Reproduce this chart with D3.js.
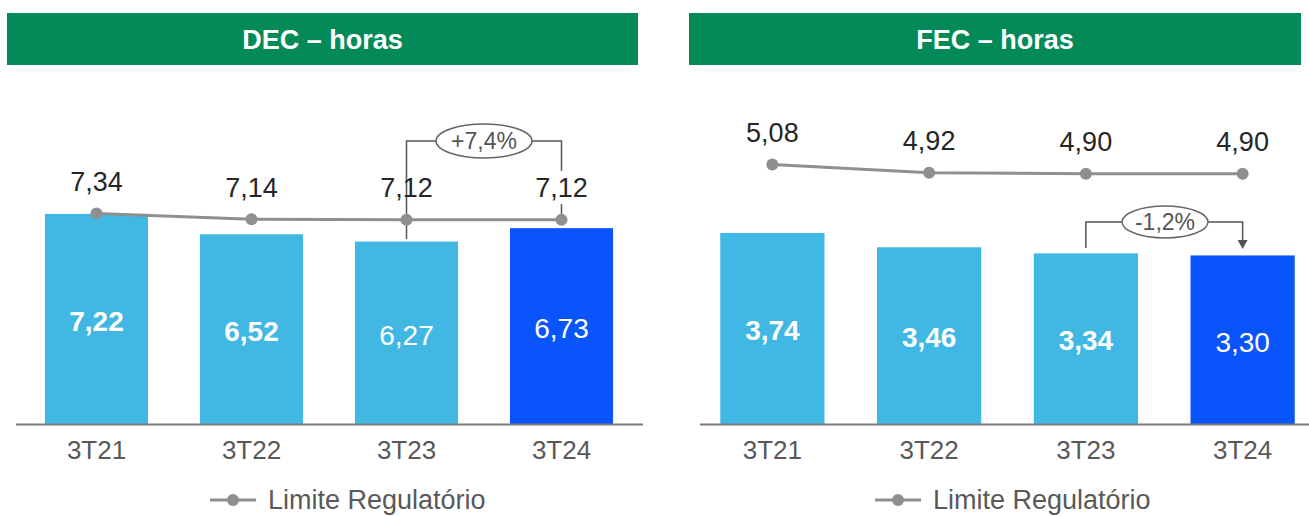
<!DOCTYPE html>
<html>
<head>
<meta charset="utf-8">
<script src="https://cdn.jsdelivr.net/npm/d3@7"></script>
<style>
  body { margin: 0; background: #fff; }
  text { font-family: "Liberation Sans", Arial, sans-serif; }
</style>
</head>
<body>
<div id="chart"></div>
<script>
// categories and values
var periods = ["3T21", "3T22", "3T23", "3T24"];
var decValues = [7.22, 6.52, 6.27, 6.73];
var decLimit = [7.34, 7.14, 7.12, 7.12];
var fecValues = [3.74, 3.46, 3.34, 3.30];
var fecLimit = [5.08, 4.92, 4.90, 4.90];
var decBold = [true, true, false, false];
var fecBold = [true, true, true, false];
var decChange = "+7,4%";
var fecChange = "-1,2%";

var svgWidth = 1309;
var svgHeight = 516;
var baseY = 424;

var lightBlue = "#41b8e4";
var darkBlue = "#0a55fb";
var green = "#038a58";
var lineGrey = "#8f8f8f";

var fmt = function(v) { return v.toFixed(2).replace(".", ","); };

var svg = d3.select("#chart")
  .append("svg")
  .attr("width", svgWidth)
  .attr("height", svgHeight);

function drawPanel(opt) {
  var g = svg.append("g");

  // header
  g.append("rect")
    .attr("x", opt.headX).attr("y", 13)
    .attr("width", opt.headW).attr("height", 52)
    .attr("fill", green);
  g.append("text")
    .attr("x", opt.headX + opt.headW / 2).attr("y", 40)
    .attr("dy", "0.35em")
    .attr("text-anchor", "middle")
    .attr("fill", "#fff")
    .attr("font-size", 27)
    .attr("font-weight", "bold")
    .text(opt.title);

  var x = d3.scaleBand()
    .domain(periods)
    .range(opt.range)
    .paddingInner(0.335)
    .paddingOuter(0.1675);

  var y = d3.scaleLinear()
    .domain([0, opt.unitMax])
    .range([baseY, baseY - opt.pxMax]);

  // limit line sits on its own (slightly shifted) axis
  var yLine = d3.scaleLinear()
    .domain([0, opt.unitMax])
    .range([baseY + opt.lineShift, baseY + opt.lineShift - opt.pxMax]);

  // bars
  g.selectAll(".bar")
    .data(opt.values)
    .enter()
    .append("rect")
    .attr("x", function(d, i) { return x(periods[i]); })
    .attr("y", function(d) { return y(d); })
    .attr("width", x.bandwidth())
    .attr("height", function(d) { return baseY - y(d); })
    .attr("fill", function(d, i) { return i === 3 ? darkBlue : lightBlue; });

  // values inside bars
  g.selectAll(".inlabel")
    .data(opt.values)
    .enter()
    .append("text")
    .attr("x", function(d, i) { return x(periods[i]) + x.bandwidth() / 2; })
    .attr("y", function(d) { return (y(d) + baseY) / 2 + 2; })
    .attr("dy", "0.35em")
    .attr("text-anchor", "middle")
    .attr("fill", "#fff")
    .attr("font-size", 28)
    .attr("font-weight", function(d, i) { return opt.bold[i] ? "bold" : "normal"; })
    .text(fmt);

  // baseline
  g.append("line")
    .attr("x1", opt.axis[0]).attr("x2", opt.axis[1])
    .attr("y1", baseY + 0.5).attr("y2", baseY + 0.5)
    .attr("stroke", "#7a7a7a")
    .attr("stroke-width", 2);

  // category axis
  var axis = d3.axisBottom(x).tickSize(0).tickPadding(17);
  var ax = g.append("g")
    .attr("transform", "translate(0," + baseY + ")")
    .call(axis);
  ax.select(".domain").remove();
  ax.selectAll("text")
    .attr("font-size", 26)
    .attr("fill", "#595959")
    .style("font-family", "'Liberation Sans', Arial, sans-serif");

  // limit line
  var cx = function(i) { return x(periods[i]) + x.bandwidth() / 2; };
  var line = d3.line()
    .x(function(d, i) { return cx(i); })
    .y(function(d) { return yLine(d); });

  g.append("path")
    .datum(opt.limit)
    .attr("d", line)
    .attr("fill", "none")
    .attr("stroke", lineGrey)
    .attr("stroke-width", 3);

  // annotation bracket
  var a = opt.note;
  var x1 = cx(2), x2 = cx(3);
  var mid = a.ex;
  g.append("path")
    .attr("d", "M" + x1 + "," + a.leftBottom + "V" + a.top + "H" + (mid - a.rx) +
      "M" + (mid + a.rx) + "," + a.top + "H" + x2 + "V" + a.rightBottom)
    .attr("fill", "none")
    .attr("stroke", "#555")
    .attr("stroke-width", 1.5);
  if (a.arrow) {
    g.append("path")
      .attr("d", "M" + (x2 - 5) + "," + (a.rightBottom) + "L" + (x2 + 5) + "," + a.rightBottom +
        "L" + x2 + "," + (a.rightBottom + 9) + "Z")
      .attr("fill", "#555");
  }
  if (a.stub) {
    g.append("line")
      .attr("x1", x2).attr("x2", x2)
      .attr("y1", a.stub[0]).attr("y2", a.stub[1])
      .attr("stroke", "#555").attr("stroke-width", 1.5);
  }
  g.append("ellipse")
    .attr("cx", mid).attr("cy", a.top)
    .attr("rx", a.rx).attr("ry", a.ry)
    .attr("fill", "#fff")
    .attr("stroke", "#666")
    .attr("stroke-width", 1.5);
  g.append("text")
    .attr("x", mid).attr("y", a.top)
    .attr("dy", "0.35em")
    .attr("text-anchor", "middle")
    .attr("fill", "#555")
    .attr("font-size", 23)
    .text(a.label);

  // dots
  g.selectAll(".dot")
    .data(opt.limit)
    .enter()
    .append("circle")
    .attr("cx", function(d, i) { return cx(i); })
    .attr("cy", function(d) { return yLine(d); })
    .attr("r", 6)
    .attr("fill", lineGrey);

  // limit labels
  g.selectAll(".lbl")
    .data(opt.limit)
    .enter()
    .append("text")
    .attr("x", function(d, i) { return cx(i); })
    .attr("y", function(d) { return yLine(d) - 32; })
    .attr("dy", "0.35em")
    .attr("text-anchor", "middle")
    .attr("fill", "#262626")
    .attr("font-size", 27)
    .text(fmt);

  // legend
  var lg = g.append("g").attr("transform", "translate(" + opt.legendX + ",500)");
  lg.append("line")
    .attr("x1", 0).attr("x2", 46).attr("y1", 0).attr("y2", 0)
    .attr("stroke", lineGrey).attr("stroke-width", 3);
  lg.append("circle").attr("cx", 23).attr("cy", 0).attr("r", 6).attr("fill", lineGrey);
  lg.append("text")
    .attr("x", 58).attr("y", 0)
    .attr("dy", "0.35em")
    .attr("fill", "#595959")
    .attr("font-size", 27)
    .text("Limite Regulatório");
}

drawPanel({
  title: "DEC \u2013 horas",
  headX: 7, headW: 631,
  range: [19, 639],
  axis: [16, 643],
  unitMax: 10, pxMax: 291, lineShift: 3,
  values: decValues, limit: decLimit, bold: decBold,
  legendX: 210,
  note: { label: decChange, top: 141, ex: 484, rx: 48, ry: 17,
          leftBottom: 239, rightBottom: 171, arrow: false, stub: [204, 218] }
});

drawPanel({
  title: "FEC \u2013 horas",
  headX: 689, headW: 612,
  range: [694, 1321],
  axis: [700, 1309],
  unitMax: 5, pxMax: 255.4, lineShift: 0,
  values: fecValues, limit: fecLimit, bold: fecBold,
  legendX: 875,
  note: { label: fecChange, top: 222, ex: 1165, rx: 43, ry: 16,
          leftBottom: 248, rightBottom: 240, arrow: true, stub: null }
});
</script>
</body>
</html>
